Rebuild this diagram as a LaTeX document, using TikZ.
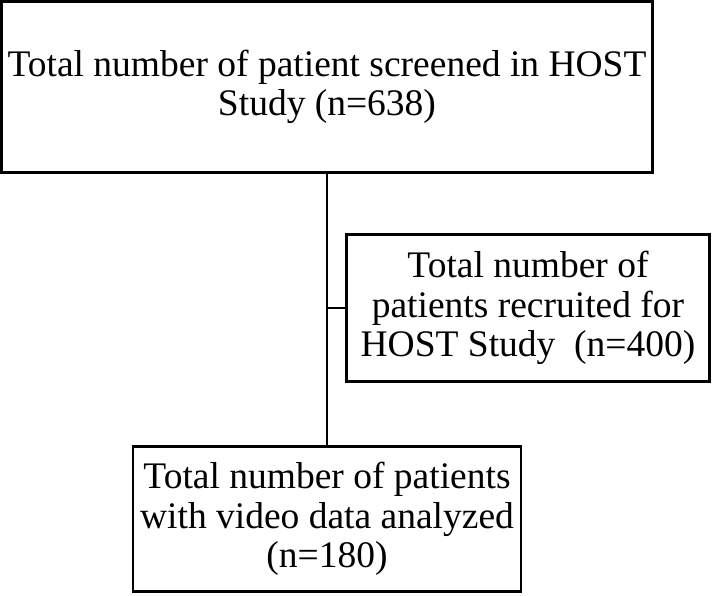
\documentclass[tikz,border=0pt]{standalone}
\usepackage{fontspec}
\setmainfont{Liberation Serif}
\usetikzlibrary{positioning,calc}

\begin{document}
\begin{tikzpicture}[
    x=1pt, y=-1pt,
    box/.style={rectangle, draw=black, line width=2.8pt, fill=white,
                align=center, inner sep=0pt,
                font=\fontsize{37.5}{39.5}\selectfont},
    link/.style={draw=black, line width=2.6pt}
]
\useasboundingbox (0,0) rectangle (712,596);

% Boxes
\node[box, minimum width=651pt, minimum height=171pt] (screen) at (327,87)
    {Total number of patient screened in HOST\\Study (n=638)};
\node[box, minimum width=363pt, minimum height=147pt] (recruit) at (528,308)
    {Total number of\\patients recruited for\\HOST Study~~(n=400)};
\node[box, minimum width=388pt, minimum height=145pt] (video) at (327,519)
    {Total number of patients\\with video data analyzed\\(n=180)};

% Links
\draw[link] (screen.south) -- (video.north);
\draw[link] (recruit.west) -- (recruit.west -| screen.south);

\end{tikzpicture}
\end{document}
